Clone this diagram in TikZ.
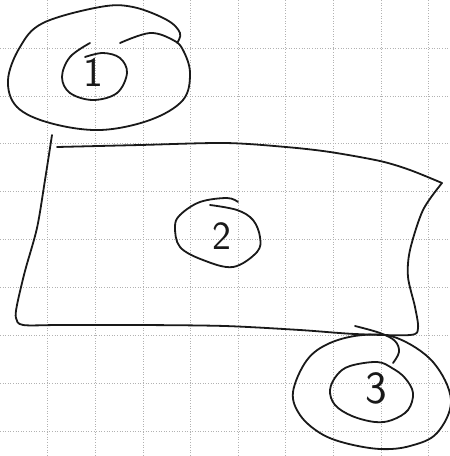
\documentclass[tikz,border=0pt]{standalone}
\begin{document}
\begin{tikzpicture}[x=1pt,y=-1pt,
  ink/.style={line width=1.8pt, draw=black!90, line cap=round, line join=round},
  gridline/.style={gray!60, line width=0.6pt, dotted},
  digit/.style={font=\sffamily, text=black!90, inner sep=0pt}]
\clip (0,0) rectangle (450,456);
\fill[white] (0,0) rectangle (450,456);
\foreach \i in {1,...,9} {
  \draw[gridline] ({47.6*\i},0) -- ({47.6*\i},456);
  \draw[gridline] (0,{47.9*\i}) -- (450,{47.9*\i});
}
% region 1
\draw[ink] plot[smooth, tension=0.6] coordinates {(120,43) (150,33) (173,40) (183,50) (190,73) (183,100) (150,120) (100,130) (50,123) (17,107) (8,80) (20,47) (43,23) (100,7) (133,7) (167,20) (180,33) (177,43)};
\draw[ink] plot[smooth, tension=0.6] coordinates {(90,43) (70,57) (62,77) (70,93) (93,100) (117,93) (127,73) (120,58) (103,53) (85,57)};
\node[digit, font=\sffamily\fontsize{42}{42}\selectfont] (n1) at (93,72) {1};
% region 2 (box)
\draw[ink] plot[smooth, tension=0.5] coordinates {(52,135) (45,180) (37,228) (25,271) (17,305) (16,318) (23,325) (60,325) (140,325) (225,326) (300,330) (355,334) (410,335) (418,328) (415,307) (408,277) (410,250) (423,210) (442,183)};
\draw[ink] plot[smooth, tension=0.5] coordinates {(442,183) (410,170) (380,161) (330,152) (286,147) (225,143) (140,145) (57,147)};
\draw[ink] plot[smooth, tension=0.6] coordinates {(210,205) (237,210) (253,220) (260,237) (257,252) (233,267) (203,260) (180,247) (175,227) (180,215) (200,202) (227,198) (238,202)};
\node[digit, font=\sffamily\fontsize{40}{40}\selectfont] (n2) at (222,236) {2};
% region 3
\draw[ink] plot[smooth cycle, tension=0.6] coordinates {(293,392) (307,360) (330,343) (363,335) (397,338) (433,362) (451,400) (437,433) (410,446) (380,449) (345,443) (320,433) (300,415)};
\draw[ink] plot[smooth, tension=0.6] coordinates {(355,326) (380,333) (395,341) (399,352) (393,363)};
\draw[ink] plot[smooth cycle, tension=0.6] coordinates {(377,362) (392,368) (405,378) (413,393) (408,410) (392,420) (375,422) (352,416) (335,405) (330,390) (337,375) (350,366)};
\node[digit, font=\sffamily\fontsize{46}{46}\selectfont] (n3) at (376,388) {3};
\end{tikzpicture}
\end{document}
